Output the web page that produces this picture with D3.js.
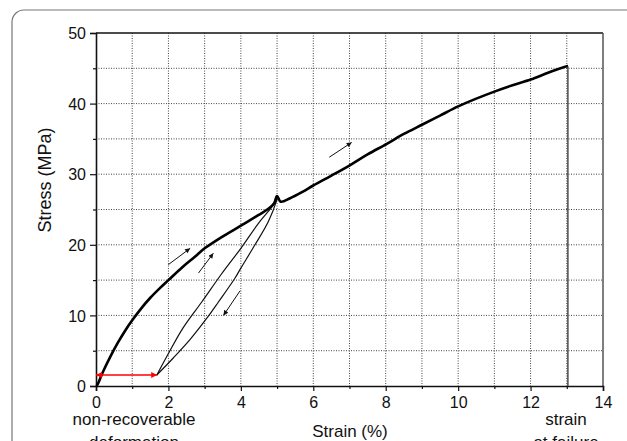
<!DOCTYPE html>
<html>
<head>
<meta charset="utf-8">
<script src="https://cdn.jsdelivr.net/npm/d3@7"></script>
<style>
  body { margin: 0; background: #fff; }
  svg text { font-family: "Liberation Sans", Arial, sans-serif; fill: #111; }
</style>
</head>
<body>
<svg id="chart" width="627" height="441"></svg>
<script>

//=========== data (strain %, stress MPa)

var loadCurve = [
  [0,0],[0.03,0.1],[0.2,2.1],[0.4,4.2],[0.6,6.1],[0.8,7.8],[1.0,9.3],
  [1.25,11.0],[1.5,12.5],[1.75,13.8],[2.0,15.0],[2.4,16.9],[2.73,18.3],[3.0,19.5],
  [3.47,21.1],[4.0,22.7],[4.48,24.2],[4.76,25.1],[4.92,25.9],[5.0,26.9],
  [5.1,26.1],[5.36,26.6],[5.7,27.5],[6.0,28.4],[6.5,29.8],[7.02,31.3],
  [7.5,32.8],[8.03,34.3],[8.5,35.7],[9.0,37.0],[9.5,38.3],[10.0,39.6],
  [10.5,40.7],[11.0,41.7],[11.5,42.6],[12.0,43.4],[12.5,44.4],[13.0,45.3],[13.03,45.3]
];

var unloadCurve = [
  [5.0,26.5],[4.99,26.3],[4.76,23.3],[4.39,20.0],[4.0,16.7],[3.84,15.3],
  [3.38,11.9],[3.06,9.6],[2.6,6.6],[2.14,4.0],[1.68,1.56]
];

var reloadCurve = [
  [1.68,1.56],[2.0,4.6],[2.4,8.2],[2.92,11.9],[3.47,15.9],[4.0,19.5],
  [4.48,23.0],[4.94,25.9],[5.0,26.5]
];

var failureLine = [[13.03,45.3],[13.03,0]];

// direction arrows [from, to]
var blackArrows = [
  [[2.0,17.2],[2.6,19.5]],
  [[2.83,16.0],[3.24,18.8]],
  [[3.98,13.5],[3.52,10.0]],
  [[6.44,32.4],[7.06,34.5]]
];
var redArrow = [[0,1.56],[1.69,1.56]];

var xTicks = [0,2,4,6,8,10,12,14];
var xMinorTicks = [1,3,5,7,9,11,13];
var yTicks = [0,10,20,30,40,50];
var yMinorTicks = [5,15,25,35,45];

var xTitle = "Strain (%)";
var yTitle = "Stress (MPa)";
var leftNote = ["non-recoverable","deformation"];
var rightNote = ["strain","at failure"];


//=========== layout
var margin = {top: 33, right: 24, bottom: 55, left: 96},
    width = 603 - margin.left,
    height = 386 - margin.top;

var svg = d3.select("#chart");

// rounded frame round the figure
svg.append("rect")
   .attr("x", 12).attr("y", 10)
   .attr("width", 650).attr("height", 460)
   .attr("rx", 12)
   .attr("fill", "none")
   .attr("stroke", "#777")
   .attr("stroke-width", 1.2);

var chart = svg.append("g").attr("transform", "translate(" + margin.left + "," + margin.top + ")");

var x = d3.scaleLinear().domain([0,14]).range([0,width]);
var y = d3.scaleLinear().domain([0,50]).range([height,0]);


//=========== grid
chart.append("g").selectAll("line")
     .data(xTicks.concat(xMinorTicks).filter(function(d){ return d > 0 && d < 14; }))
     .enter().append("line")
     .attr("x1", function(d){ return x(d); }).attr("x2", function(d){ return x(d); })
     .attr("y1", 0).attr("y2", height)
     .attr("stroke", "#444").attr("stroke-width", 1)
     .attr("stroke-dasharray", "1,1.5");

chart.append("g").selectAll("line")
     .data(yTicks.concat(yMinorTicks).filter(function(d){ return d > 0 && d < 50; }))
     .enter().append("line")
     .attr("x1", 0).attr("x2", width)
     .attr("y1", function(d){ return y(d); }).attr("y2", function(d){ return y(d); })
     .attr("stroke", "#444").attr("stroke-width", 1)
     .attr("stroke-dasharray", "1,1.5");

// top and right frame
chart.append("line").attr("x1",0).attr("x2",width).attr("y1",0).attr("y2",0)
     .attr("stroke","#111").attr("stroke-width",1.5);
chart.append("line").attr("x1",width).attr("x2",width).attr("y1",0).attr("y2",height)
     .attr("stroke","#555").attr("stroke-width",1.5);


//=========== axes
var xAxis = chart.append("g")
     .attr("transform", "translate(0," + height + ")")
     .call(d3.axisBottom(x).tickValues(xTicks).tickSize(5).tickPadding(6).tickFormat(d3.format("d")));
chart.append("g")
     .attr("transform", "translate(0," + height + ")")
     .call(d3.axisBottom(x).tickValues(xMinorTicks).tickSize(3).tickFormat(""))
     .select(".domain").remove();

var yAxis = chart.append("g")
     .call(d3.axisLeft(y).tickValues(yTicks).tickSize(6).tickPadding(4).tickFormat(d3.format("d")));
chart.append("g")
     .call(d3.axisLeft(y).tickValues(yMinorTicks).tickSize(3).tickFormat(""))
     .select(".domain").remove();

svg.selectAll(".domain").attr("stroke", "#111").attr("stroke-width", 1.6);
svg.selectAll(".tick line").attr("stroke", "#111").attr("stroke-width", 1.2);
svg.selectAll(".tick text").attr("font-size", 16).attr("fill", "#111");
yAxis.selectAll(".tick text").attr("dy", "0.36em");


//=========== curves
var line = d3.line()
             .curve(d3.curveCatmullRom.alpha(0.5))
             .x(function(d){ return x(d[0]); })
             .y(function(d){ return y(d[1]); });

var straight = d3.line()
             .x(function(d){ return x(d[0]); })
             .y(function(d){ return y(d[1]); });

chart.append("path").attr("d", line(unloadCurve))
     .attr("fill","none").attr("stroke","#111").attr("stroke-width",1.2);
chart.append("path").attr("d", line(reloadCurve))
     .attr("fill","none").attr("stroke","#111").attr("stroke-width",1.2);
chart.append("path").attr("d", straight(failureLine))
     .attr("fill","none").attr("stroke","#555").attr("stroke-width",1.6);
chart.append("path").attr("d", line(loadCurve))
     .attr("fill","none").attr("stroke","#000").attr("stroke-width",2.6)
     .attr("stroke-linejoin","round");


//=========== arrows
var defs = svg.append("defs");
function addMarker(id, color, w, h){
  defs.append("marker")
      .attr("id", id)
      .attr("viewBox", "0 0 10 10")
      .attr("refX", 10).attr("refY", 5)
      .attr("markerUnits", "userSpaceOnUse")
      .attr("markerWidth", w).attr("markerHeight", h)
      .attr("orient", "auto-start-reverse")
    .append("path")
      .attr("d", "M0,0 L10,5 L0,10 Z")
      .attr("fill", color);
}
addMarker("headBlack", "#111", 9, 5);
addMarker("headRed", "#f00", 10, 6);

chart.selectAll(".dirArrow")
     .data(blackArrows)
     .enter().append("path")
     .attr("class", "dirArrow")
     .attr("d", function(d){ return straight(d); })
     .attr("stroke", "#111").attr("stroke-width", 1)
     .attr("marker-end", "url(#headBlack)");

chart.append("path")
     .attr("d", straight(redArrow))
     .attr("stroke", "#f00").attr("stroke-width", 1.3)
     .attr("marker-start", "url(#headRed)")
     .attr("marker-end", "url(#headRed)");


//=========== titles and notes
svg.append("text")
   .attr("x", 350).attr("y", 437)
   .attr("text-anchor", "middle").attr("font-size", 17)
   .text(xTitle);

svg.append("text")
   .attr("transform", "translate(51,180) rotate(-90)")
   .attr("text-anchor", "middle").attr("font-size", 18)
   .text(yTitle);

svg.append("g").selectAll("text")
   .data(leftNote).enter().append("text")
   .attr("x", 134).attr("y", function(d,i){ return 425 + i*23; })
   .attr("text-anchor", "middle").attr("font-size", 17)
   .text(function(d){ return d; });

svg.append("g").selectAll("text")
   .data(rightNote).enter().append("text")
   .attr("x", 566).attr("y", function(d,i){ return 425 + i*23; })
   .attr("text-anchor", "middle").attr("font-size", 17)
   .text(function(d){ return d; });

</script>
</body>
</html>
